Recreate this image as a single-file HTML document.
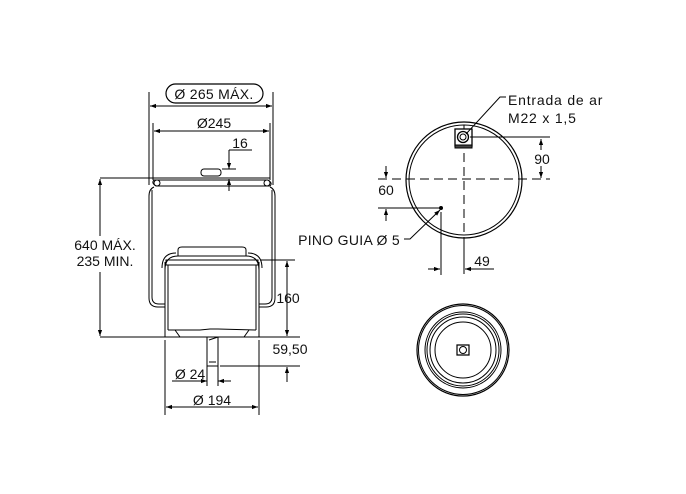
<!DOCTYPE html>
<html><head><style>
html,body{margin:0;padding:0;background:#fff;}
svg{display:block;}
text{font-family:"Liberation Sans",sans-serif;fill:#111;}
</style></head><body>
<svg width="686" height="494" viewBox="0 0 686 494" xmlns="http://www.w3.org/2000/svg">
<defs>
<marker id="a" viewBox="0 0 10 10" refX="10" refY="5" markerWidth="9" markerHeight="6" orient="auto-start-reverse" markerUnits="userSpaceOnUse"><path d="M0,1.5 L10,5 L0,8.5z" fill="#000"/></marker>
</defs>
<g stroke="#000" fill="none" stroke-width="1">
<rect x="166" y="84" width="97" height="19" rx="9.5" stroke-width="1.2"/>
<line x1="149" y1="92" x2="149" y2="185"/>
<line x1="273" y1="92" x2="273" y2="185"/>
<line x1="150" y1="106" x2="272" y2="106" marker-start="url(#a)" marker-end="url(#a)"/>
<line x1="153" y1="123" x2="153" y2="180"/>
<line x1="270" y1="123" x2="270" y2="180"/>
<line x1="154" y1="131" x2="269" y2="131" marker-start="url(#a)" marker-end="url(#a)"/>
<line x1="229" y1="150" x2="252" y2="150"/>
<line x1="229" y1="150" x2="229" y2="169" marker-end="url(#a)"/>
<line x1="222" y1="169" x2="236" y2="169"/>
<line x1="229" y1="191" x2="229" y2="179" marker-end="url(#a)"/>
<rect x="201" y="169" width="20" height="7" rx="3"/>
<line x1="100" y1="178" x2="270" y2="178"/>
<path d="M154,180 L268,180 Q273,183 270,186 L156,186 Q151,183 154,180z"/>
<circle cx="157" cy="183" r="3"/><circle cx="267" cy="183" r="3"/>
<path d="M154,187 Q149,189 149,196 L149,298 Q149,307 158,307 L165,307"/>
<path d="M152,190 L152,297 Q152,304 159,304 L165,304"/>
<path d="M270,187 Q275,189 275,196 L275,298 Q275,307 266,307 L259,307"/>
<path d="M272,190 L272,297 Q272,304 265,304 L259,304"/>
<path d="M178,256 L178,250 Q178,247 182,247 L242,247 Q246,247 246,250 L246,256"/>
<path d="M165,270 Q165,256 178,256 L246,256 Q259,256 259,270"/>
<path d="M162,268 Q162,253 176,253 M248,253 Q262,253 262,268"/>
<rect x="166" y="260" width="92" height="5"/>
<line x1="165" y1="262" x2="165" y2="337"/>
<line x1="259" y1="262" x2="259" y2="337"/>
<line x1="168" y1="265" x2="168" y2="330"/>
<line x1="256" y1="265" x2="256" y2="330"/>
<path d="M168,330 L200,330 L210,329 L218,329 L256,330"/>
<path d="M175,330 L180,337 M249,330 L244,337"/>
<line x1="100" y1="337" x2="300" y2="337"/>
<path d="M207,337 L207,366 L218,366 L218,337"/>
<line x1="209" y1="340" x2="218" y2="337"/>
<line x1="209" y1="362" x2="216" y2="362"/>
<line x1="207" y1="366" x2="207" y2="386"/>
<line x1="218" y1="366" x2="218" y2="386"/>
<line x1="172" y1="381" x2="207" y2="381" marker-end="url(#a)"/>
<line x1="231" y1="381" x2="218" y2="381" marker-end="url(#a)"/>
<line x1="165" y1="340" x2="165" y2="415"/>
<line x1="259" y1="340" x2="259" y2="415"/>
<line x1="166" y1="407" x2="258" y2="407" marker-start="url(#a)" marker-end="url(#a)"/>
<line x1="260" y1="260" x2="295" y2="260"/>
<line x1="287" y1="261" x2="287" y2="336" marker-start="url(#a)" marker-end="url(#a)"/>
<line x1="220" y1="366" x2="300" y2="366"/>
<line x1="287" y1="382" x2="287" y2="367" marker-end="url(#a)"/>
<line x1="100" y1="179" x2="100" y2="236" marker-start="url(#a)"/>
<line x1="100" y1="272" x2="100" y2="336" marker-end="url(#a)"/>

<circle cx="464" cy="180" r="58" stroke-width="1.2"/>
<circle cx="464" cy="180" r="55"/>
<line x1="378" y1="179" x2="550" y2="179" stroke-dasharray="9,5"/>
<line x1="464" y1="125" x2="464" y2="240" stroke-dasharray="9,5"/>
<line x1="464" y1="240" x2="464" y2="274"/>
<rect x="455" y="129" width="17" height="17" fill="#fff" stroke-width="1.3"/>
<rect x="455" y="145" width="17" height="3" fill="#444"/>
<circle cx="463" cy="137" r="5.5" stroke-width="1.3"/>
<circle cx="463" cy="137" r="3"/>
<path d="M506,97 L500,97 L466,134" />
<line x1="470" y1="137" x2="550" y2="137"/>
<line x1="541" y1="139" x2="541" y2="150" marker-start="url(#a)"/>
<line x1="541" y1="166" x2="541" y2="178" marker-end="url(#a)"/>
<line x1="378" y1="208" x2="441" y2="208"/>
<line x1="386" y1="166" x2="386" y2="178" marker-end="url(#a)"/>
<line x1="386" y1="221" x2="386" y2="209" marker-end="url(#a)"/>
<circle cx="441" cy="208" r="1.5" fill="#000"/>
<path d="M404,239 L410,239 L440,210" marker-end="url(#a)"/>
<line x1="441" y1="212" x2="441" y2="275"/>
<line x1="428" y1="269" x2="440" y2="269" marker-end="url(#a)"/>
<line x1="494" y1="269" x2="465" y2="269" marker-end="url(#a)"/>

<circle cx="463" cy="350" r="46" stroke-width="1.2"/>
<circle cx="463" cy="350" r="44.5"/>
<circle cx="463" cy="350" r="38"/>
<circle cx="463" cy="350" r="36"/>
<circle cx="463" cy="350" r="33"/>
<circle cx="463" cy="350" r="28"/>
<path d="M457,345 L469,345 L469,355 L457,355z" stroke-width="1.2"/>
<circle cx="463" cy="350" r="3.5"/>
</g>
<g font-size="14">
<text x="214" y="99" text-anchor="middle" letter-spacing="0.3">Ø 265 MÁX.</text>
<text x="214" y="128" text-anchor="middle">Ø245</text>
<text x="240" y="148" text-anchor="middle">16</text>
<text x="105" y="250" text-anchor="middle">640 MÁX.</text>
<text x="105" y="266" text-anchor="middle">235 MIN.</text>
<text x="288" y="303" text-anchor="middle">160</text>
<text x="290" y="354" text-anchor="middle">59,50</text>
<text x="190" y="379" text-anchor="middle">Ø 24</text>
<text x="212" y="405" text-anchor="middle">Ø 194</text>
<text x="508" y="105" letter-spacing="0.8">Entrada de ar</text>
<text x="508" y="123" letter-spacing="0.8">M22 x 1,5</text>
<text x="542" y="164" text-anchor="middle">90</text>
<text x="386" y="195" text-anchor="middle">60</text>
<text x="400" y="245" text-anchor="end" letter-spacing="0.3">PINO GUIA Ø 5</text>
<text x="482" y="266" text-anchor="middle">49</text>
</g>
</svg>
</body></html>
